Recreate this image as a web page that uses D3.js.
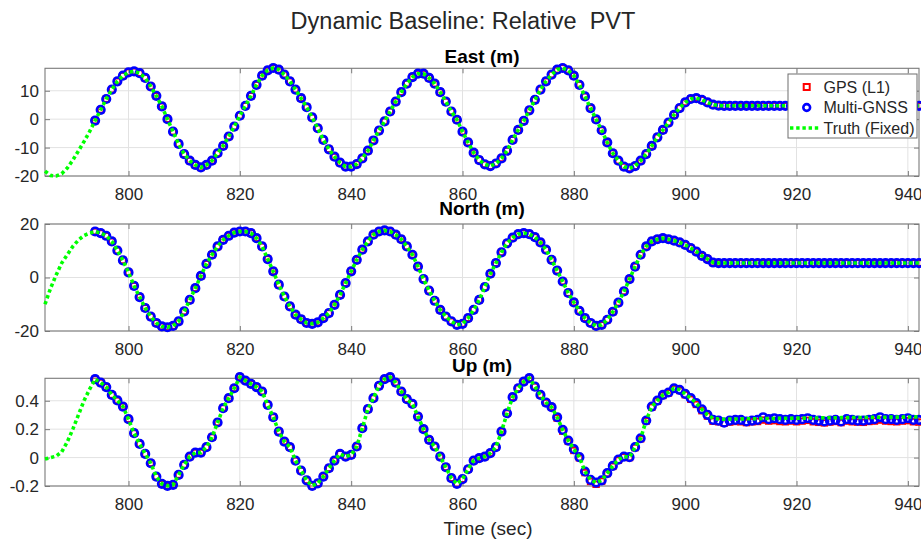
<!DOCTYPE html>
<html><head><meta charset="utf-8">
<script src="https://cdn.jsdelivr.net/npm/d3@7"></script>
<style>
html,body{margin:0;padding:0;background:#fff;}
svg{display:block;font-family:"Liberation Sans",Arial,Helvetica,sans-serif;}
</style></head><body>
<svg id="chart" width="921" height="542"></svg>
<script>
// ---------------- data ----------------
const timeStart = 785, timeEnd = 942, measStart = 794;   // seconds, 1 Hz samples
const xTicks = [800, 820, 840, 860, 880, 900, 920, 940];
const xTickLabels = ["800", "820", "840", "860", "880", "900", "920", "940"];
const eastDomain = [-20, 17.9];
const eastTicks = [-20, -10, 0, 10];
const eastTickLabels = ["-20", "-10", "0", "10"];
const northDomain = [-20, 20];
const northTicks = [-20, 0, 20];
const northTickLabels = ["-20", "0", "20"];
const upDomain = [-0.2, 0.558];
const upTicks = [-0.2, 0, 0.2, 0.4];
const upTickLabels = ["-0.2", "0", "0.2", "0.4"];
const seriesNames = ["GPS (L1)", "Multi-GNSS", "Truth (Fixed)"];

// Truth (785..942)
const eastTruth = [
 -18.3,-19.8,-20.0,-19.2,-17.2,-14.4,-11.2,-7.9,-4.4,-0.5,
 3.3,7.1,10.4,13.3,15.3,16.5,16.8,16.2,14.5,11.5,
 8.2,4.5,0.0,-4.4,-8.7,-12.3,-14.6,-16.1,-17.0,-16.1,
 -14.6,-12.0,-9.4,-6.1,-2.6,1.2,4.7,8.2,12.1,15.3,
 17.2,18.0,17.4,15.7,13.3,10.4,7.4,4.2,0.6,-3.2,
 -7.3,-10.6,-13.2,-15.3,-16.7,-16.7,-15.8,-13.8,-11.1,-7.5,
 -4.0,-0.8,2.7,6.2,9.5,12.5,14.8,16.0,16.0,14.5,
 12.5,9.5,6.2,2.7,-0.2,-4.4,-8.2,-11.8,-14.4,-15.9,
 -16.5,-15.6,-13.8,-11.1,-7.3,-3.8,-0.6,3.1,6.8,10.4,
 13.3,15.7,17.4,18.0,17.2,15.3,12.1,8.0,3.9,-0.1,
 -3.9,-8.2,-12.0,-14.6,-16.7,-17.3,-16.5,-14.6,-12.3,-9.4,
 -6.4,-3.8,-1.2,1.5,3.9,5.9,7.1,7.4,6.8,5.9,
 5.1,4.8,4.7,4.7,4.7,4.7,4.7,4.7,4.7,4.7,
 4.7,4.7,4.7,4.7,4.7,4.7,4.7,4.7,4.7,4.7,
 4.7,4.7,4.7,4.7,4.7,4.7,4.7,4.7,4.7,4.7,
 4.7,4.7,4.7,4.7,4.7,4.7,4.7,4.7
];
const northTruth = [
 -10.0,-4.0,0.9,5.4,8.5,11.6,14.0,15.7,16.6,17.2,
 16.6,15.6,13.5,10.1,6.4,1.9,-3.1,-7.3,-11.4,-14.6,
 -17.0,-18.3,-18.6,-18.1,-16.4,-12.7,-8.4,-4.0,0.6,5.1,
 8.5,11.6,14.1,15.6,16.8,17.2,17.2,16.6,14.7,11.6,
 6.9,2.3,-2.7,-7.1,-10.8,-13.9,-15.6,-17.0,-17.3,-16.8,
 -15.2,-13.3,-10.2,-6.5,-2.1,2.3,6.6,10.4,13.5,16.0,
 17.2,17.6,17.2,16.0,14.3,11.6,8.5,4.1,-0.6,-4.9,
 -8.7,-12.1,-14.6,-16.4,-17.7,-17.3,-15.2,-12.1,-8.4,-3.6,
 1.4,5.4,9.4,12.8,14.9,16.2,16.6,16.2,15.1,13.1,
 10.4,6.6,2.6,-1.5,-5.8,-9.3,-12.5,-15.2,-17.0,-18.1,
 -17.7,-15.8,-12.8,-9.4,-5.2,-0.6,4.1,8.5,11.6,13.5,
 14.3,14.7,14.3,13.8,13.1,12.2,11.0,9.7,8.1,6.9,
 5.6,5.4,5.4,5.4,5.4,5.4,5.4,5.4,5.4,5.4,
 5.4,5.4,5.4,5.4,5.4,5.4,5.4,5.4,5.4,5.4,
 5.4,5.4,5.4,5.4,5.4,5.4,5.4,5.4,5.4,5.4,
 5.4,5.4,5.4,5.4,5.4,5.4,5.4,5.4
];
const upTruth = [
 -0.010,0.000,0.010,0.040,0.110,0.200,0.300,0.400,0.480,
 0.552,0.528,0.496,0.441,0.402,0.359,0.270,0.172,0.096,0.026,
 -0.040,-0.134,-0.185,-0.199,-0.192,-0.122,-0.051,0.007,0.035,0.035,
 0.073,0.143,0.247,0.348,0.418,0.488,0.566,0.542,0.519,0.496,
 0.465,0.371,0.284,0.183,0.113,0.073,-0.021,-0.092,-0.160,-0.199,
 -0.181,-0.134,-0.075,-0.021,0.026,0.007,0.019,0.078,0.207,0.341,
 0.418,0.505,0.552,0.566,0.528,0.465,0.411,0.378,0.289,0.200,
 0.125,0.078,0.007,-0.068,-0.145,-0.185,-0.152,-0.082,-0.021,-0.004,
 0.007,0.031,0.073,0.183,0.312,0.425,0.488,0.535,0.559,0.500,
 0.441,0.387,0.355,0.284,0.195,0.120,0.059,0.003,-0.098,-0.157,
 -0.176,-0.160,-0.110,-0.059,-0.014,0.007,0.003,0.073,0.136,0.261,
 0.359,0.401,0.441,0.458,0.488,0.477,0.448,0.418,0.383,0.340,
 0.301,
 0.276,0.272,0.270,0.271,0.272,0.272,0.273,0.273,0.274,0.275,
 0.275,0.276,0.276,0.277,0.277,0.278,0.278,0.278,0.279,0.279,
 0.280,0.280,0.280,0.281,0.281,0.282,0.282,0.282,0.283,0.283,
 0.284,0.284,0.285,0.285,0.285,0.286,0.286,0.287
];

// Measured solutions (794..942). East/North solutions coincide with truth at this scale.
const eastGPS = eastTruth.slice(measStart - timeStart);
const eastMulti = eastTruth.slice(measStart - timeStart);
const northGPS = northTruth.slice(measStart - timeStart);
const northMulti = northTruth.slice(measStart - timeStart);
const upMulti = [
 0.552,0.528,0.496,0.441,0.402,0.359,0.270,0.172,0.096,0.026,
 -0.040,-0.134,-0.185,-0.199,-0.192,-0.122,-0.051,0.007,0.035,0.035,
 0.073,0.143,0.247,0.348,0.418,0.488,0.566,0.542,0.519,0.496,
 0.465,0.371,0.284,0.183,0.113,0.073,-0.021,-0.092,-0.160,-0.199,
 -0.181,-0.134,-0.075,-0.021,0.026,0.007,0.019,0.078,0.207,0.341,
 0.418,0.505,0.552,0.566,0.528,0.465,0.411,0.378,0.289,0.200,
 0.125,0.078,0.007,-0.068,-0.145,-0.185,-0.152,-0.082,-0.021,-0.004,
 0.007,0.031,0.073,0.183,0.312,0.425,0.488,0.535,0.559,0.500,
 0.441,0.387,0.355,0.284,0.195,0.120,0.059,0.003,-0.098,-0.157,
 -0.176,-0.160,-0.110,-0.059,-0.014,0.007,0.003,0.073,0.136,0.261,
 0.359,0.401,0.441,0.458,0.488,0.477,0.448,0.418,0.383,0.340,
 0.301,0.265,0.260,0.246,0.260,0.265,0.265,0.254,0.260,0.265,
 0.284,0.270,0.277,0.270,0.265,0.270,0.265,0.270,0.277,0.265,
 0.260,0.254,0.260,0.265,0.254,0.270,0.265,0.260,0.260,0.265,
 0.270,0.284,0.270,0.270,0.265,0.270,0.277,0.265,0.265
];
const upGPS = [
 0.552,0.528,0.496,0.441,0.402,0.359,0.270,0.172,0.096,0.026,
 -0.040,-0.134,-0.185,-0.199,-0.192,-0.122,-0.051,0.007,0.035,0.035,
 0.073,0.143,0.247,0.348,0.418,0.488,0.566,0.542,0.519,0.496,
 0.465,0.371,0.284,0.183,0.113,0.073,-0.021,-0.092,-0.160,-0.199,
 -0.181,-0.134,-0.075,-0.021,0.026,0.007,0.019,0.078,0.207,0.341,
 0.418,0.505,0.552,0.566,0.528,0.465,0.411,0.378,0.289,0.200,
 0.125,0.078,0.007,-0.068,-0.145,-0.185,-0.152,-0.082,-0.021,-0.004,
 0.007,0.031,0.073,0.183,0.312,0.425,0.488,0.535,0.559,0.500,
 0.441,0.387,0.355,0.278,0.186,0.114,0.050,-0.002,-0.106,-0.168,
 -0.188,-0.166,-0.112,-0.062,-0.018,0.004,0.000,0.070,0.132,0.257,
 0.354,0.397,0.437,0.454,0.484,0.472,0.442,0.410,0.374,0.330,
 0.292,0.256,0.252,0.242,0.250,0.254,0.252,0.246,0.252,0.254,
 0.264,0.257,0.260,0.254,0.252,0.257,0.252,0.257,0.262,0.252,
 0.248,0.244,0.250,0.254,0.246,0.257,0.252,0.250,0.248,0.254,
 0.257,0.264,0.257,0.254,0.252,0.257,0.260,0.252,0.250
];

// ---------------- drawing ----------------
const times = d3.range(timeStart, timeEnd + 1);
const measTimes = times.slice(measStart - timeStart);
const svg = d3.select("#chart");
const plotLeft = 45, plotRight = 919;
const x = d3.scaleLinear().domain([timeStart, timeEnd]).range([plotLeft, plotRight]);
const axisColor = "#7a7a7a", gridColor = "#e2e2e2", textColor = "#262626";
const tickFont = 17;

const panels = [
  {title: "East (m)", top: 68.3, bottom: 176, titleY: 63, domain: eastDomain, ticks: eastTicks, labels: eastTickLabels,
   truth: eastTruth, gps: eastGPS, multi: eastMulti, legend: true},
  {title: "North (m)", top: 224, bottom: 331, titleY: 215, domain: northDomain, ticks: northTicks, labels: northTickLabels,
   truth: northTruth, gps: northGPS, multi: northMulti, legend: false},
  {title: "Up (m)", top: 378.3, bottom: 486, titleY: 371.5, domain: upDomain, ticks: upTicks, labels: upTickLabels,
   truth: upTruth, gps: upGPS, multi: upMulti, legend: false}
];

svg.append("text").attr("x", 463).attr("y", 29).attr("text-anchor", "middle")
  .style("white-space", "pre").attr("xml:space", "preserve")
  .attr("font-size", 23.5).attr("fill", textColor).text("Dynamic Baseline: Relative  PVT");

panels.forEach(p => {
  const y = d3.scaleLinear().domain(p.domain).range([p.bottom, p.top]);
  const g = svg.append("g");
  // grid
  g.selectAll(".vg").data(xTicks).join("line")
    .attr("x1", d => x(d)).attr("x2", d => x(d)).attr("y1", p.top).attr("y2", p.bottom)
    .attr("stroke", gridColor).attr("stroke-width", 1);
  g.selectAll(".hg").data(p.ticks).join("line")
    .attr("x1", plotLeft).attr("x2", plotRight).attr("y1", d => y(d)).attr("y2", d => y(d))
    .attr("stroke", gridColor).attr("stroke-width", 1);
  // axes
  const ax = g.append("g").attr("transform", `translate(0,${p.bottom})`)
    .call(d3.axisBottom(x).tickValues(xTicks).tickFormat((d, i) => xTickLabels[i]).tickSizeInner(-5).tickSizeOuter(0).tickPadding(12));
  const ay = g.append("g").attr("transform", `translate(${plotLeft},0)`)
    .call(d3.axisLeft(y).tickValues(p.ticks).tickFormat((d, i) => p.labels[i]).tickSizeInner(-5).tickSizeOuter(0).tickPadding(6));
  const axt = g.append("g").attr("transform", `translate(0,${p.top})`)
    .call(d3.axisTop(x).tickValues(xTicks).tickFormat("").tickSizeInner(-5).tickSizeOuter(0));
  const ayr = g.append("g").attr("transform", `translate(${plotRight},0)`)
    .call(d3.axisRight(y).tickValues(p.ticks).tickFormat("").tickSizeInner(-5).tickSizeOuter(0));
  [ax, ay, axt, ayr].forEach(a => {
    a.select(".domain").remove();
    a.selectAll(".tick line").attr("stroke", axisColor);
    a.selectAll("text").attr("font-size", tickFont).attr("fill", textColor)
      .attr("font-family", '"Liberation Sans",Arial,sans-serif');
  });
  g.append("rect").attr("x", plotLeft).attr("y", p.top).attr("width", plotRight - plotLeft).attr("height", p.bottom - p.top)
    .attr("fill", "none").attr("stroke", axisColor).attr("stroke-width", 1.1);
  // title
  svg.append("text").attr("x", (plotLeft + plotRight) / 2).attr("y", p.titleY).attr("text-anchor", "middle")
    .attr("font-size", 19).attr("font-weight", "bold").attr("fill", "#000").text(p.title);

  // GPS (L1) squares
  g.selectAll(".gps").data(p.gps).join("rect")
    .attr("x", (d, i) => x(measTimes[i]) - 2.8).attr("y", d => y(d) - 2.8)
    .attr("width", 5.6).attr("height", 5.6).attr("fill", "none").attr("stroke", "#ff0000").attr("stroke-width", 1.8);
  // Multi-GNSS circles
  g.selectAll(".mg").data(p.multi).join("circle")
    .attr("cx", (d, i) => x(measTimes[i])).attr("cy", d => y(d)).attr("r", 3.8)
    .attr("fill", "none").attr("stroke", "#0000ff").attr("stroke-width", 2.6);
  // Truth line
  const line = d3.line().x((d, i) => x(times[i])).y(d => y(d));
  g.append("path").datum(p.truth).attr("d", line).attr("fill", "none")
    .attr("stroke", "#00ff00").attr("stroke-width", 3.6).attr("stroke-dasharray", "3.4,2.8");

  if (p.legend) {
    const lg = svg.append("g");
    lg.append("rect").attr("x", 788).attr("y", 74).attr("width", 129).attr("height", 64)
      .attr("fill", "#fff").attr("stroke", "#6e6e6e").attr("stroke-width", 1);
    const rowsY = [87, 107.5, 128];
    lg.append("rect").attr("x", 806.7 - 3).attr("y", rowsY[0] - 3).attr("width", 6).attr("height", 6)
      .attr("fill", "#fff").attr("stroke", "#ff0000").attr("stroke-width", 2);
    lg.append("circle").attr("cx", 806.7).attr("cy", rowsY[1]).attr("r", 3.4)
      .attr("fill", "#fff").attr("stroke", "#0000ff").attr("stroke-width", 2.6);
    lg.append("line").attr("x1", 790).attr("x2", 821).attr("y1", rowsY[2]).attr("y2", rowsY[2])
      .attr("stroke", "#00ff00").attr("stroke-width", 3.6).attr("stroke-dasharray", "3.4,2.8");
    seriesNames.forEach((n, i) => {
      lg.append("text").attr("x", 823.5).attr("y", rowsY[i] + 5.5).attr("font-size", 16)
        .attr("fill", textColor).text(n);
    });
  }
});

svg.append("text").attr("x", 488).attr("y", 535).attr("text-anchor", "middle")
  .attr("font-size", 19).attr("fill", textColor).text("Time (sec)");
</script>
</body></html>
